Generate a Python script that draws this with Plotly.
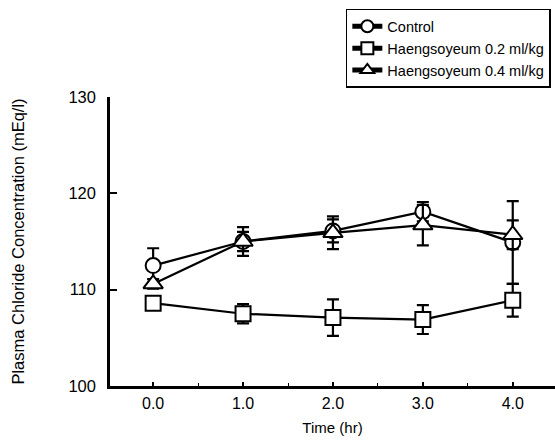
import plotly.graph_objects as go

time_hr = [0.0, 1.0, 2.0, 3.0, 4.0]
x_tick_labels = ["0.0", "1.0", "2.0", "3.0", "4.0"]
y_ticks = [100, 110, 120, 130]

control = [112.5, 115.0, 116.1, 118.1, 114.9]
control_err = [1.8, 1.0, 1.2, 1.0, 4.3]

h02 = [108.6, 107.5, 107.1, 106.9, 108.9]
h02_err = [0.6, 1.0, 1.9, 1.5, 1.7]

h04 = [110.6, 115.0, 115.9, 116.7, 115.7]
h04_err = [0.5, 1.5, 1.7, 2.1, 1.5]

series = [
    ("Control", control, control_err, "circle", 15),
    ("Haengsoyeum 0.2 ml/kg", h02, h02_err, "square", 15),
    ("Haengsoyeum 0.4 ml/kg", h04, h04_err, "triangle-up", 17),
]

fig = go.Figure()
for name, vals, errs, sym, sz in series:
    fig.add_trace(go.Scatter(
        x=time_hr, y=vals, name=name, mode="lines+markers",
        line=dict(color="black", width=2.2),
        marker=dict(symbol=sym, size=sz, color="white",
                    line=dict(color="black", width=2)),
        error_y=dict(type="data", array=errs, visible=True,
                     color="black", thickness=2.2, width=6),
    ))

fig.update_layout(
    width=555, height=443,
    margin=dict(l=110, r=0, t=97, b=57),
    paper_bgcolor="white", plot_bgcolor="white",
    font=dict(family="Liberation Sans, Arial, sans-serif", color="black"),
    showlegend=True,
    legend=dict(
        x=0.53, y=1.305, xanchor="left", yanchor="top",
        bordercolor="black", borderwidth=1.5, bgcolor="white",
        font=dict(size=14.5, color="black"),
        tracegroupgap=0, itemsizing="constant", itemwidth=30,
    ),
    xaxis=dict(
        range=[-0.48, 4.47],
        tickvals=time_hr, ticktext=x_tick_labels,
        ticks="inside", ticklen=4, tickwidth=1.5, tickcolor="black",
        minor=dict(dtick=0.5, ticks="inside", ticklen=3, tickwidth=1, tickcolor="black"),
        showline=True, linecolor="black", linewidth=2.5,
        showgrid=False, zeroline=False,
        tickfont=dict(size=16),
        ticklabelstandoff=1,
        title=dict(text="Time (hr)", font=dict(size=15), standoff=12),
    ),
    yaxis=dict(
        range=[100, 130],
        tickvals=y_ticks,
        ticks="inside", ticklen=7, tickwidth=2, tickcolor="black",
        showline=True, linecolor="black", linewidth=2.5,
        showgrid=False, zeroline=False,
        tickfont=dict(size=16.5),
        ticklabelstandoff=8,
        title=dict(text="Plasma Chloride Concentration (mEq/l)", font=dict(size=16.5), standoff=40),
    ),
)

fig.write_html("out.html")
